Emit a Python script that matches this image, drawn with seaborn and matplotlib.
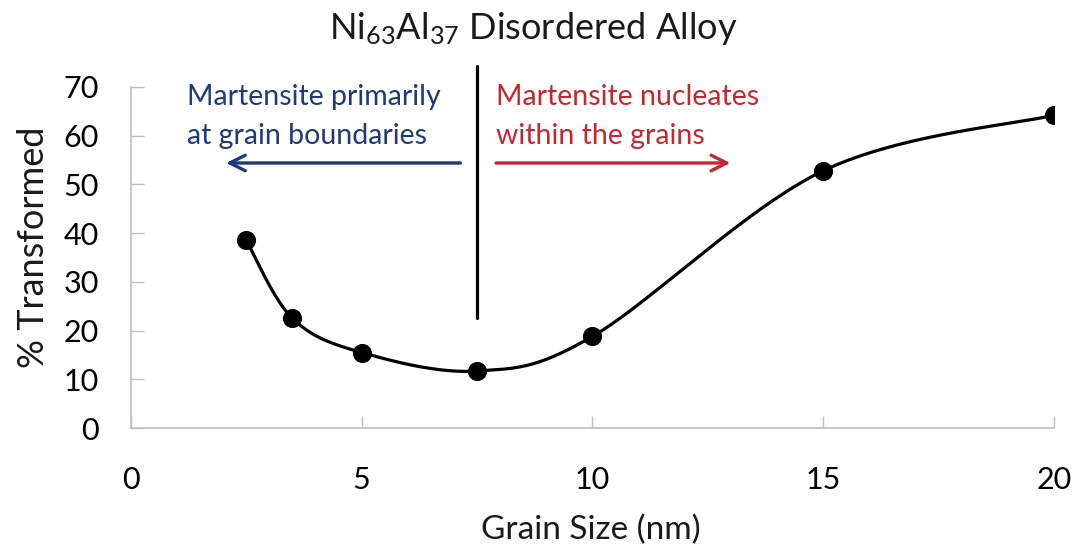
import numpy as np
import pandas as pd
import matplotlib
matplotlib.use("Agg")
import matplotlib.pyplot as plt
import seaborn as sns

# Data
grain_size = [2.5, 3.5, 5, 7.5, 10, 15, 20]
pct_transformed = [38.5, 22.5, 15.5, 11.7, 18.8, 52.8, 64.2]
x_ticks = [0, 5, 10, 15, 20]
y_ticks = [0, 10, 20, 30, 40, 50, 60, 70]

sns.set_theme(style="white")
plt.rcParams['font.family'] = ['Lato', 'DejaVu Sans']
plt.rcParams['mathtext.fontset'] = 'custom'
plt.rcParams['mathtext.rm'] = 'Lato'
plt.rcParams['mathtext.it'] = 'Lato:italic'
plt.rcParams['mathtext.bf'] = 'Lato:bold'

fig = plt.figure(figsize=(10.76, 5.52), dpi=100)
ax = fig.add_axes([0.1217, 0.2246, 0.8578, 0.6178])

# Excel-like smooth curve (Bezier with 1/6 control points), computed in display-like space
sx, sy = 46.1, 4.87
P = np.column_stack([np.array(grain_size) * sx, np.array(pct_transformed) * sy])
Pext = np.vstack([P[0], P, P[-1]])
curve = []
t = np.linspace(0, 1, 40)
for i in range(len(P) - 1):
    p0, p1, p2, p3 = Pext[i], Pext[i + 1], Pext[i + 2], Pext[i + 3]
    c1 = p1 + (p2 - p0) / 6.0
    c2 = p2 - (p3 - p1) / 6.0
    seg = ((1 - t) ** 3)[:, None] * p1 + (3 * (1 - t) ** 2 * t)[:, None] * c1 \
        + (3 * (1 - t) * t ** 2)[:, None] * c2 + (t ** 3)[:, None] * p2
    curve.append(seg if i == 0 else seg[1:])
curve = np.vstack(curve)
smooth = pd.DataFrame({"x": curve[:, 0] / sx, "y": curve[:, 1] / sy})
pts = pd.DataFrame({"x": grain_size, "y": pct_transformed})

sns.lineplot(data=smooth, x="x", y="y", sort=False, estimator=None, color="black",
             linewidth=2.3, ax=ax)
sns.scatterplot(data=pts, x="x", y="y", color="black", s=190, edgecolor="black",
                linewidth=0, ax=ax, zorder=5)

ax.set_xlim(0, 20)
ax.set_ylim(0, 70)
ax.set_xticks(x_ticks)
ax.set_yticks(y_ticks)
ax.set_xticklabels([str(v) for v in x_ticks])
ax.set_yticklabels([str(v) for v in y_ticks])

for s in ["top", "right"]:
    ax.spines[s].set_visible(False)
for s in ["left", "bottom"]:
    ax.spines[s].set_color("#bfbfbf")
    ax.spines[s].set_linewidth(1.2)
ax.tick_params(axis="y", direction="in", length=9, width=1.0, color="#bfbfbf",
               labelsize=22, labelcolor="black", pad=23, left=True)
ax.tick_params(axis="x", direction="in", length=9, width=1.0, color="#bfbfbf",
               labelsize=22, labelcolor="black", pad=27, bottom=True)

ax.set_xlabel("Grain Size (nm)", fontsize=24, color="#1a1a1a")
ax.set_ylabel("% Transformed", fontsize=26, color="#1a1a1a")
ax.xaxis.set_label_coords(0.498, -0.255)
ax.yaxis.set_label_coords(-0.088, 0.53)

fig.text(0.496, 0.948, "Ni$_{63}$Al$_{37}$ Disordered Alloy", ha="center", va="center",
         fontsize=26, color="#1a1a1a")

# Vertical divider
ax.plot([7.5, 7.5], [22.6, 74.3], color="black", linewidth=2.3, clip_on=False)

blue = "#1f3a78"
red = "#c8262e"
ax.annotate("", xy=(2.0, 54.4), xytext=(7.2, 54.4),
            arrowprops=dict(arrowstyle="->", color=blue, lw=2.4, mutation_scale=28))
ax.annotate("", xy=(13.05, 54.4), xytext=(7.85, 54.4),
            arrowprops=dict(arrowstyle="->", color=red, lw=2.4, mutation_scale=28))

ax.text(1.22, 66.4, "Martensite primarily", ha="left", va="baseline", fontsize=20.5, color=blue)
ax.text(1.22, 58.4, "at grain boundaries", ha="left", va="baseline", fontsize=20.5, color=blue)
ax.text(7.92, 66.4, "Martensite nucleates", ha="left", va="baseline", fontsize=20.5, color=red)
ax.text(7.92, 58.4, "within the grains", ha="left", va="baseline", fontsize=20.5, color=red)

fig.savefig("out.png", dpi=100)
